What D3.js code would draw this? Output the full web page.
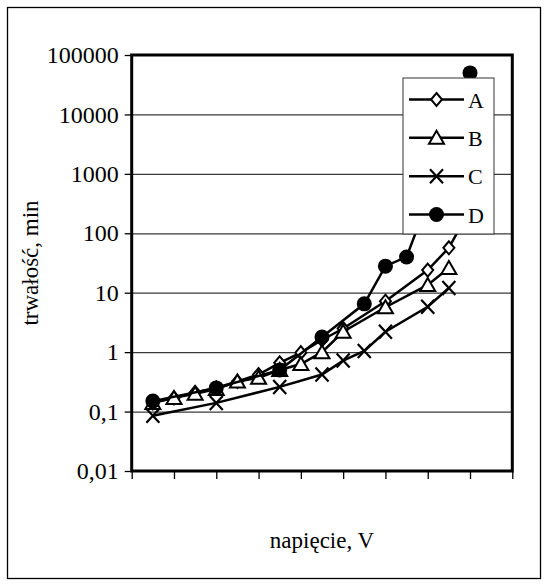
<!DOCTYPE html>
<html>
<head>
<meta charset="utf-8">
<script src="https://cdn.jsdelivr.net/npm/d3@7"></script>
<style>
  body { margin: 0; background: #fff; }
  text { font-family: "Liberation Serif", "Times New Roman", serif; fill: #000; }
</style>
</head>
<body>
<svg id="chart" width="548" height="586"></svg>
<script>

// y axis ticks (log scale, comma decimals)
const yTicks = [0.01, 0.1, 1, 10, 100, 1000, 10000, 100000];
const yTickLabels = ["0,01", "0,1", "1", "10", "100", "1000", "10000", "100000"];
// x axis tick marks only, no labels
const xTicks = [0, 1, 2, 3, 4, 5, 6, 7, 8, 9];

// series A (diamond)
const xA = [0.5, 1, 1.5, 2, 2.5, 3, 3.5, 4, 4.5, 5, 6, 7, 7.5, 8];
const yA = [0.14, 0.17, 0.21, 0.25, 0.32, 0.42, 0.66, 0.98, 1.6, 2.5, 7.2, 24, 57, 250];
// series B (triangle)
const xB = [0.5, 1, 1.5, 2, 2.5, 3, 3.5, 4, 4.5, 5, 6, 7, 7.5];
const yB = [0.14, 0.17, 0.2, 0.24, 0.32, 0.37, 0.5, 0.63, 1.0, 2.2, 5.7, 13.5, 26];
// series C (cross)
const xC = [0.5, 2, 3.5, 4.5, 5, 5.5, 6, 7, 7.5];
const yC = [0.085, 0.14, 0.26, 0.42, 0.72, 1.05, 2.2, 5.8, 12];
// series D (filled circle)
const xD = [0.5, 2, 3.5, 4.5, 5.5, 6, 6.5, 7, 8];
const yD = [0.15, 0.25, 0.5, 1.8, 6.5, 28, 40, 350, 50000];

const seriesNames = ["A", "B", "C", "D"];

const series = [
  { name: "A", xs: xA, ys: yA, marker: "diamond" },
  { name: "B", xs: xB, ys: yB, marker: "triangle" },
  { name: "C", xs: xC, ys: yC, marker: "cross" },
  { name: "D", xs: xD, ys: yD, marker: "circle" }
];

const svg = d3.select("#chart");
const plot = { left: 131.7, right: 512.3, top: 55, bottom: 471 };

// outer frame
svg.append("rect")
  .attr("x", 7.5).attr("y", 7.5)
  .attr("width", 533).attr("height", 571)
  .attr("fill", "#fff")
  .attr("stroke", "#000")
  .attr("stroke-width", 1.3);

const x = d3.scaleLinear().domain([0, 9]).range([plot.left, plot.right]);
const y = d3.scaleLog().domain([0.01, 100000]).range([plot.bottom, plot.top]);

// gridlines
svg.append("g")
  .attr("class", "grid")
  .attr("transform", `translate(${plot.left},0)`)
  .call(d3.axisLeft(y).tickValues(yTicks).tickSize(-(plot.right - plot.left)).tickFormat(""))
  .call(g => g.select(".domain").remove())
  .selectAll("line")
    .attr("stroke", "#3a3a3a")
    .attr("stroke-width", 1.2);

// y axis
svg.append("g")
  .attr("class", "y axis")
  .attr("transform", `translate(${plot.left},0)`)
  .call(d3.axisLeft(y).tickValues(yTicks).tickSize(7).tickPadding(6)
    .tickFormat((d, i) => yTickLabels[i]))
  .call(g => g.select(".domain").remove())
  .call(g => g.selectAll("line").attr("stroke", "#000").attr("stroke-width", 1.3))
  .selectAll("text")
    .style("font-family", "'Liberation Serif', 'Times New Roman', serif")
    .style("font-size", "24px")
    .attr("fill", "#000");

// x axis (marks only)
svg.append("g")
  .attr("class", "x axis")
  .attr("transform", `translate(0,${plot.bottom})`)
  .call(d3.axisBottom(x).tickValues(xTicks).tickSize(8).tickFormat(""))
  .call(g => g.select(".domain").remove())
  .selectAll("line")
    .attr("stroke", "#000")
    .attr("stroke-width", 1.3);

// plot frame
svg.append("rect")
  .attr("x", plot.left).attr("y", plot.top)
  .attr("width", plot.right - plot.left)
  .attr("height", plot.bottom - plot.top)
  .attr("fill", "none")
  .attr("stroke", "#000")
  .attr("stroke-width", 3);

// marker shapes
function drawMarker(g, type) {
  if (type === "diamond") {
    g.append("path").attr("d", "M0,-6.5L5.5,0L0,6.5L-5.5,0Z")
      .attr("fill", "#fff").attr("stroke", "#000").attr("stroke-width", 2);
  } else if (type === "triangle") {
    g.append("path").attr("d", "M0,-7L7.5,6L-7.5,6Z")
      .attr("fill", "#fff").attr("stroke", "#000").attr("stroke-width", 2);
  } else if (type === "cross") {
    g.append("path").attr("d", "M-6.5,-7L6.5,7M6.5,-7L-6.5,7")
      .attr("fill", "none").attr("stroke", "#000").attr("stroke-width", 2.2);
  } else {
    g.append("circle").attr("r", 7.5).attr("fill", "#000");
  }
}

const line = d3.line().x(d => x(d[0])).y(d => y(d[1]));

series.forEach(s => {
  const pts = s.xs.map((v, i) => [v, s.ys[i]]);
  const g = svg.append("g").attr("class", "series-" + s.name);
  g.append("path")
    .datum(pts)
    .attr("d", line)
    .attr("fill", "none")
    .attr("stroke", "#000")
    .attr("stroke-width", 2.5);
  pts.forEach(p => {
    const m = g.append("g").attr("transform", `translate(${x(p[0])},${y(p[1])})`);
    drawMarker(m, s.marker);
  });
});

// legend
const legend = svg.append("g").attr("class", "legend");
legend.append("rect")
  .attr("x", 403).attr("y", 78)
  .attr("width", 91).attr("height", 156)
  .attr("fill", "#fff")
  .attr("stroke", "#333")
  .attr("stroke-width", 1);

const rowY = d3.scalePoint().domain(seriesNames).range([99.5, 214.5]);
series.forEach(s => {
  const cy = rowY(s.name);
  legend.append("line")
    .attr("x1", 409).attr("x2", 464)
    .attr("y1", cy).attr("y2", cy)
    .attr("stroke", "#000").attr("stroke-width", 2.5);
  drawMarker(legend.append("g").attr("transform", `translate(436.5,${cy})`), s.marker);
  legend.append("text")
    .attr("x", 468).attr("y", cy + 8)
    .style("font-size", "22px")
    .text(s.name);
});

// axis titles
svg.append("text")
  .attr("transform", `translate(38,${(plot.top + plot.bottom) / 2}) rotate(-90)`)
  .attr("text-anchor", "middle")
  .style("font-size", "23px")
  .text("trwałość, min");

svg.append("text")
  .attr("x", (plot.left + plot.right) / 2)
  .attr("y", 548)
  .attr("text-anchor", "middle")
  .style("font-size", "23px")
  .text("napięcie, V");

</script>
</body>
</html>
